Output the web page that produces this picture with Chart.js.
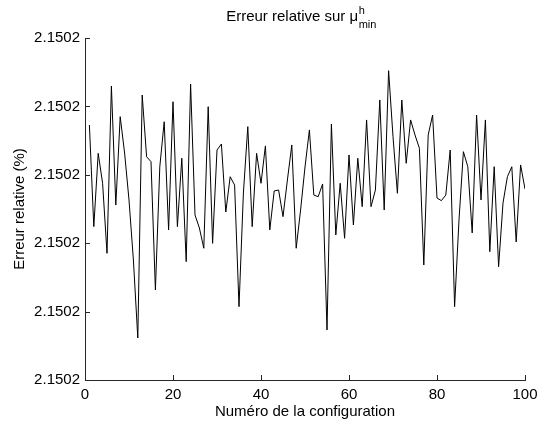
<!DOCTYPE html>
<html>
<head>
<meta charset="utf-8">
<script src="https://cdn.jsdelivr.net/npm/chart.js@4/dist/chart.umd.min.js"></script>
<style>
  html, body { margin: 0; padding: 0; background: #fff; }
  #wrap { width: 540px; height: 423px; position: relative; }
</style>
</head>
<body>
<div id="wrap"><canvas id="erreurRelative"></canvas></div>
<script>
// numéros de configuration
const configurations = [
  1, 2, 3, 4, 5, 6, 7, 8, 9, 10,
  11, 12, 13, 14, 15, 16, 17, 18, 19, 20,
  21, 22, 23, 24, 25, 26, 27, 28, 29, 30,
  31, 32, 33, 34, 35, 36, 37, 38, 39, 40,
  41, 42, 43, 44, 45, 46, 47, 48, 49, 50,
  51, 52, 53, 54, 55, 56, 57, 58, 59, 60,
  61, 62, 63, 64, 65, 66, 67, 68, 69, 70,
  71, 72, 73, 74, 75, 76, 77, 78, 79, 80,
  81, 82, 83, 84, 85, 86, 87, 88, 89, 90,
  91, 92, 93, 94, 95, 96, 97, 98, 99, 100
];

// erreur relative (%) par configuration
const erreurs = [
  2.15021864, 2.15021121, 2.15021657, 2.15021438, 2.15020926, 2.15022149, 2.15021279, 2.15021925, 2.15021659, 2.15021316,
  2.15020877, 2.15020307, 2.15022083, 2.15021632, 2.15021596, 2.15020658, 2.15021559, 2.15021888, 2.15021097, 2.15022034,
  2.15021121, 2.15021621, 2.15020865, 2.15022164, 2.15021206, 2.15021111, 2.15020963, 2.15021998, 2.15020999, 2.15021681,
  2.15021725, 2.15021228, 2.15021486, 2.15021425, 2.15020536, 2.15021367, 2.15021852, 2.15021121, 2.15021657, 2.15021438,
  2.15021711, 2.15021097, 2.15021382, 2.15021389, 2.15021194, 2.15021462, 2.15021718, 2.15020963, 2.15021243, 2.15021557,
  2.15021828, 2.15021352, 2.15021340, 2.15021433, 2.15020366, 2.15021871, 2.15021060, 2.15021438, 2.15021036, 2.15021645,
  2.15021133, 2.15021621, 2.15021267, 2.15021901, 2.15021267, 2.15021389, 2.15022047, 2.15021243, 2.15022261, 2.15021779,
  2.15021365, 2.15022047, 2.15021584, 2.15021901, 2.15021791, 2.15021694, 2.15020841, 2.15021791, 2.15021937, 2.15021330,
  2.15021311, 2.15021352, 2.15021681, 2.15020536, 2.15021170, 2.15021669, 2.15021559, 2.15021075, 2.15021937, 2.15021316,
  2.15021901, 2.15020938, 2.15021559, 2.15020828, 2.15021294, 2.15021486, 2.15021559, 2.15021009, 2.15021572, 2.15021396
];

const xTicks = [0, 20, 40, 60, 80, 100];
const xTickLabels = ['0', '20', '40', '60', '80', '100'];
const yTicks = [2.1502, 2.150205, 2.15021, 2.150215, 2.15022, 2.150225];
const yTickLabels = ['2.1502', '2.1502', '2.1502', '2.1502', '2.1502', '2.1502'];

const FONT = 'Liberation Sans, Arial, Helvetica, sans-serif';
const FONT_SIZE = 15;
const AXIS_COLOR = '#262626';

// petits traits de graduation tournés vers l'intérieur
const tickMarks = {
  id: 'tickMarks',
  afterDatasetsDraw(chart) {
    const { ctx, chartArea: a, scales: { x, y } } = chart;
    ctx.save();
    ctx.strokeStyle = AXIS_COLOR;
    ctx.lineWidth = 1;
    ctx.beginPath();
    x.ticks.forEach(t => {
      const px = Math.round(x.getPixelForValue(t.value)) + 0.5;
      ctx.moveTo(px, a.bottom);
      ctx.lineTo(px, a.bottom - 5);
    });
    y.ticks.forEach(t => {
      const py = Math.round(y.getPixelForValue(t.value)) + 0.5;
      ctx.moveTo(a.left, py);
      ctx.lineTo(a.left + 5, py);
    });
    ctx.stroke();
    ctx.restore();
  }
};

// titre avec exposant / indice : μ^h_min
const titreMu = {
  id: 'titreMu',
  afterDraw(chart) {
    const { ctx, chartArea: a } = chart;
    const main = 'Erreur relative sur \u03bc';
    ctx.save();
    ctx.fillStyle = '#000';
    ctx.textBaseline = 'alphabetic';
    ctx.font = FONT_SIZE + 'px ' + FONT;
    const wMain = ctx.measureText(main).width;
    ctx.font = '11px ' + FONT;
    const wScript = Math.max(ctx.measureText('h').width, ctx.measureText('min').width);
    const x0 = (a.left + a.right) / 2 - (wMain + wScript) / 2 - 4;
    ctx.font = FONT_SIZE + 'px ' + FONT;
    ctx.fillText(main, x0, 21);
    ctx.font = '11px ' + FONT;
    ctx.fillText('h', x0 + wMain + 0.5, 14);
    ctx.fillText('min', x0 + wMain + 0.5, 28);
    ctx.restore();
  }
};

const points = configurations.map((c, i) => ({ x: c, y: erreurs[i] }));

new Chart(document.getElementById('erreurRelative'), {
  type: 'line',
  data: {
    datasets: [{
      data: points,
      borderColor: '#000',
      borderWidth: 1,
      pointRadius: 0,
      tension: 0,
      fill: false
    }]
  },
  options: {
    responsive: true,
    maintainAspectRatio: false,
    animation: false,
    parsing: false,
    layout: { padding: { top: 38, right: 15, left: 0, bottom: 0 } },
    plugins: {
      legend: { display: false },
      tooltip: { enabled: false },
      title: { display: false }
    },
    scales: {
      x: {
        type: 'linear',
        min: 0,
        max: 100,
        afterBuildTicks: s => { s.ticks = xTicks.map(v => ({ value: v })); },
        afterFit: s => { s.height = 43; s.paddingLeft = 0; s.paddingRight = 0; },
        grid: { display: true, drawOnChartArea: false, drawTicks: false },
        border: { display: true, color: AXIS_COLOR, width: 1 },
        ticks: {
          color: '#000',
          font: { family: FONT, size: FONT_SIZE },
          padding: 6,
          maxRotation: 0,
          autoSkip: false,
          callback: (v, i) => xTickLabels[i]
        },
        title: {
          display: true,
          text: 'Numéro de la configuration',
          color: '#000',
          font: { family: FONT, size: FONT_SIZE },
          padding: { top: 0, bottom: 2 }
        }
      },
      y: {
        type: 'linear',
        min: yTicks[0],
        max: yTicks[yTicks.length - 1],
        afterBuildTicks: s => { s.ticks = yTicks.map(v => ({ value: v })); },
        afterFit: s => { s.width = 85; s.paddingTop = 0; s.paddingBottom = 0; },
        grid: { display: true, drawOnChartArea: false, drawTicks: false },
        border: { display: true, color: AXIS_COLOR, width: 1 },
        ticks: {
          color: '#000',
          font: { family: FONT, size: FONT_SIZE },
          padding: 5,
          autoSkip: false,
          callback: (v, i) => yTickLabels[i]
        },
        title: {
          display: true,
          text: 'Erreur relative (%)',
          color: '#000',
          font: { family: FONT, size: FONT_SIZE },
          padding: { top: 11, bottom: 0 }
        }
      }
    }
  },
  plugins: [tickMarks, titreMu]
});
</script>
</body>
</html>
